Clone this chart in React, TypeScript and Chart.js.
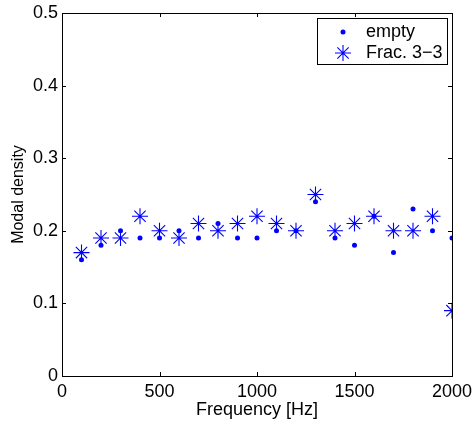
import React, { useEffect, useRef } from "react";
import { Chart, registerables } from "chart.js";

Chart.register(...registerables);

const frequencies = [100, 200, 300, 400, 500, 600, 700, 800, 900, 1000, 1100, 1200, 1300, 1400, 1500, 1600, 1700, 1800, 1900, 2000];
const emptyValues = [0.16, 0.18, 0.20, 0.19, 0.19, 0.20, 0.19, 0.21, 0.19, 0.19, 0.20, 0.20, 0.24, 0.19, 0.18, 0.22, 0.17, 0.23, 0.20, 0.19];
const fracValues = [0.17, 0.19, 0.19, 0.22, 0.20, 0.19, 0.21, 0.20, 0.21, 0.22, 0.21, 0.20, 0.25, 0.20, 0.21, 0.22, 0.20, 0.20, 0.22, 0.09];
const xTicks = [0, 500, 1000, 1500, 2000];
const yTicks = [0, 0.1, 0.2, 0.3, 0.4, 0.5];
const seriesNames = ["empty", "Frac. 3\u22123"];

const FONT = "Liberation Sans, Arial, Helvetica, sans-serif";
const FS = 18;
const BLUE = "#0000ff";

const boxPlugin = {
  id: "matlabBox",
  afterDatasetsDraw(chart: any) {
    const { ctx, chartArea } = chart;
    const { left, right, top, bottom } = chartArea;
    const xs = chart.scales.x;
    const ys = chart.scales.y;
    ctx.save();
    ctx.strokeStyle = "#000";
    ctx.lineWidth = 1;
    ctx.beginPath();
    const t = 4;
    xTicks.forEach((v) => {
      const px = Math.round(xs.getPixelForValue(v)) + 0.5;
      ctx.moveTo(px, bottom);
      ctx.lineTo(px, bottom - t);
      ctx.moveTo(px, top);
      ctx.lineTo(px, top + t);
    });
    yTicks.forEach((v) => {
      const py = Math.round(ys.getPixelForValue(v)) + 0.5;
      ctx.moveTo(left, py);
      ctx.lineTo(left + t, py);
      ctx.moveTo(right, py);
      ctx.lineTo(right - t, py);
    });
    ctx.stroke();
    ctx.strokeRect(Math.round(left) + 0.5, Math.round(top) + 0.5, Math.round(right - left), Math.round(bottom - top));

    // legend
    const lx = 317, ly = 18, lw = 130, lh = 46;
    ctx.fillStyle = "#fff";
    ctx.fillRect(lx, ly, lw, lh);
    ctx.strokeRect(lx + 0.5, ly + 0.5, lw, lh);
    ctx.fillStyle = BLUE;
    ctx.beginPath();
    ctx.arc(343, 32, 2.5, 0, Math.PI * 2);
    ctx.fill();
    ctx.strokeStyle = BLUE;
    ctx.lineWidth = 1.1;
    ctx.beginPath();
    const r = 8, cx = 343, cy = 53;
    ctx.moveTo(cx - r, cy); ctx.lineTo(cx + r, cy);
    ctx.moveTo(cx, cy - r); ctx.lineTo(cx, cy + r);
    const d = r * Math.SQRT1_2;
    ctx.moveTo(cx - d, cy - d); ctx.lineTo(cx + d, cy + d);
    ctx.moveTo(cx - d, cy + d); ctx.lineTo(cx + d, cy - d);
    ctx.stroke();
    ctx.fillStyle = "#000";
    ctx.font = `${FS}px ${FONT}`;
    ctx.textBaseline = "middle";
    ctx.textAlign = "left";
    ctx.fillText(seriesNames[0], 366, 32);
    ctx.fillText(seriesNames[1], 366, 53);
    ctx.restore();
  },
};

export default function App() {
  const ref = useRef<HTMLCanvasElement>(null);
  useEffect(() => {
    document.body.style.margin = "0";
    const canvas = ref.current!;
    const chart = new Chart(canvas, {
      type: "scatter",
      data: {
        datasets: [
          {
            label: seriesNames[0],
            data: frequencies.map((f, i) => ({ x: f, y: emptyValues[i] })),
            pointStyle: "circle",
            pointRadius: 2.5,
            backgroundColor: BLUE,
            borderColor: BLUE,
            borderWidth: 0,
            order: 1,
          },
          {
            label: seriesNames[1],
            data: frequencies.map((f, i) => ({ x: f, y: fracValues[i] })),
            pointStyle: "star",
            pointRadius: 8,
            backgroundColor: BLUE,
            borderColor: BLUE,
            borderWidth: 1.1,
            order: 0,
          },
        ],
      },
      options: {
        responsive: false,
        animation: false,
        layout: { padding: { top: 13, right: 0, left: 0, bottom: 0 } },
        plugins: { legend: { display: false }, tooltip: { enabled: false } },
        scales: {
          x: {
            type: "linear",
            min: 0,
            max: 2000,
            afterBuildTicks: (s: any) => { s.ticks = xTicks.map((v) => ({ value: v })); },
            afterFit: (s: any) => { s.height = 45; s.paddingRight = 20; s.paddingLeft = 0; },
            grid: { display: false, drawTicks: false },
            border: { display: false },
            ticks: { color: "#000", font: { family: FONT, size: FS }, padding: 5, maxRotation: 0, autoSkip: false, callback: (v: any) => String(v) },
            title: { display: true, text: "Frequency [Hz]", color: "#000", font: { family: FONT, size: FS }, padding: { top: 0, bottom: 0 } },
          },
          y: {
            type: "linear",
            min: 0,
            max: 0.5,
            afterBuildTicks: (s: any) => { s.ticks = yTicks.map((v) => ({ value: v })); },
            afterFit: (s: any) => { s.width = 62; s.paddingTop = 0; s.paddingBottom = 0; },
            grid: { display: false, drawTicks: false },
            border: { display: false },
            ticks: { color: "#000", font: { family: FONT, size: FS }, padding: 4, autoSkip: false, callback: (v: any) => (v === 0 ? "0" : Number(v).toFixed(1)) },
            title: { display: true, text: "Modal density", color: "#000", font: { family: FONT, size: 16 }, padding: { top: 9, bottom: 0 } },
          },
        },
      },
      plugins: [boxPlugin],
    });
    return () => chart.destroy();
  }, []);
  return <canvas ref={ref} width={472} height={421} style={{ display: "block" }} />;
}
